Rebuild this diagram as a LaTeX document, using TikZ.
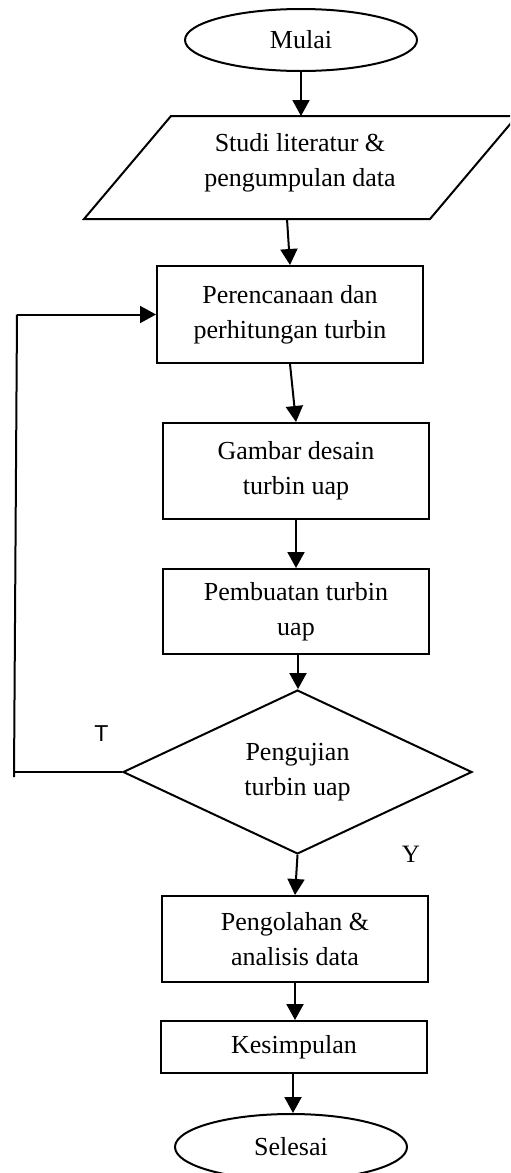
\documentclass[tikz,border=0pt]{standalone}
\usepackage{fontspec}
\setmainfont{Liberation Serif}
\newfontfamily\arialfont{Liberation Sans}
\usetikzlibrary{arrows.meta,shapes.geometric}
\tikzset{
  txt/.style={font=\fontsize{13}{17.5}\selectfont, align=center},
  procbox/.style={draw, line width=1pt, rectangle, minimum width=133pt, inner sep=0pt, txt},
  term/.style={draw, line width=1pt, ellipse, minimum width=116pt, inner sep=0pt, txt},
  decis/.style={draw, line width=1pt, diamond, minimum width=174.5pt, minimum height=77pt, inner sep=0pt, txt},
  flow/.style={line width=1pt, -{Triangle[length=8pt,width=8.5pt]}},
  plain/.style={line width=1pt}
}
\begin{document}
\begin{tikzpicture}[x=0.5pt,y=-0.5pt]
\useasboundingbox (0,0) rectangle (510,1173);
\clip (0,0) rectangle (510,1173);
% start
\node[term, minimum height=31pt] (mulai) at (301,40) {Mulai};
% parallelogram
\coordinate (pTL) at (171,116);
\coordinate (pTR) at (517,116);
\coordinate (pBR) at (430,219);
\coordinate (pBL) at (84,219);
\draw[plain, line join=miter] (pTL) -- (pTR) -- (pBR) -- (pBL) -- cycle;
\node[txt] (studi) at (300,163) {Studi literatur \&\\pengumpulan data};
\coordinate (studiTop) at (301,116);
\coordinate (studiBot) at (287,219);
% process boxes
\node[procbox, minimum height=48.5pt] (p1) at (290,314.5) {Perencanaan dan\\perhitungan turbin};
\node[procbox, minimum height=48pt] (p2) at (296,471) {Gambar desain\\turbin uap};
\node[procbox, minimum height=42.5pt] (p3) at (296,611.5) {Pembuatan turbin\\uap};
\node[decis] (dia) at (297.5,772) {Pengujian\\turbin uap};
\node[procbox, minimum height=43pt] (p4) at (295,939) {Pengolahan \&\\analisis data};
\node[procbox, minimum height=26pt] (p5) at (294,1047) {Kesimpulan};
\node[term, minimum height=33pt] (selesai) at (291,1147) {Selesai};
% labels
\node[font=\arialfont\fontsize{11.5}{13}\selectfont, inner sep=0pt] (lblT) at (101.5,734) {T};
\node[font=\fontsize{12.5}{14}\selectfont, inner sep=0pt] (lblY) at (411,854) {Y};
% connectors
\draw[flow] (mulai.south) -- (studiTop);
\draw[flow] (studiBot) -- (p1.north);
\draw[flow] (p1.south) -- (p2.north);
\draw[flow] (p2.south) -- (p3.north);
\draw[flow] ([xshift=1pt]p3.south) -- ([xshift=1pt]p3.south |- dia.north);
\draw[flow] (dia.south) -- (p4.north);
\draw[flow] (p4.south) -- (p4.south |- p5.north);
\draw[flow] ([xshift=-0.5pt]p5.south) -- ([xshift=-0.5pt]p5.south |- selesai.north);
% feedback loop
\coordinate (fbB) at (14,772);
\coordinate (fbEnd) at (14,777);
\coordinate (fbT) at (17,314.5);
\draw[plain] (dia.west) -- (fbB);
\draw[plain] (fbEnd) -- (fbT);
\draw[flow] (fbT) -- (p1.west);
\end{tikzpicture}
\end{document}
